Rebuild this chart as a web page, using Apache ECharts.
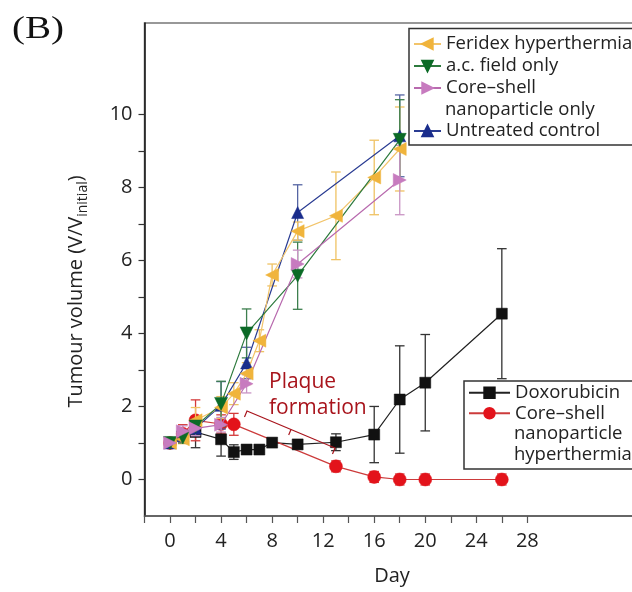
<!DOCTYPE html>
<html>
<head>
<meta charset="utf-8">
<script src="https://cdn.jsdelivr.net/npm/echarts@6/dist/echarts.min.js"></script>
<style>html,body{margin:0;padding:0;background:#fff}#c{width:632px;height:592px}</style>
</head>
<body>
<div id="c"></div>
<script>
// ---------- data ----------
const feridexDays = [0, 1, 2, 4, 5, 6, 7, 8, 10, 13, 16, 18];
const feridexVals = [1.0, 1.1, 1.62, 1.97, 2.35, 2.9, 3.8, 5.6, 6.8, 7.22, 8.27, 9.05];
const feridexErr  = [0.12, 0.12, 0.35, 0.3, 0.3, 0.3, 0.3, 0.3, 0.25, 1.2, 1.02, 1.15];

const acDays = [0, 1, 2, 4, 6, 10, 18];
const acVals = [1.0, 1.15, 1.45, 2.07, 4.0, 5.58, 9.3];
const acErr  = [0.1, 0.15, 0.2, 0.62, 0.67, 0.92, 1.1];

const coreOnlyDays = [0, 1, 2, 4, 6, 10, 18];
const coreOnlyVals = [1.0, 1.32, 1.4, 1.5, 2.62, 5.9, 8.2];
const coreOnlyErr  = [0.1, 0.15, 0.2, 0.2, 0.25, 0.38, 0.95];

const untreatedDays = [0, 1, 2, 4, 6, 10, 18];
const untreatedVals = [1.0, 1.2, 1.4, 2.03, 3.19, 7.31, 9.41];
const untreatedErr  = [0.1, 0.15, 0.2, 0.65, 0.43, 0.76, 1.12];

const doxDays = [0, 2, 4, 5, 6, 7, 8, 10, 13, 16, 18, 20, 26];
const doxVals = [1.0, 1.3, 1.1, 0.75, 0.82, 0.82, 1.01, 0.96, 1.02, 1.23, 2.19, 2.65, 4.54];
const doxErr  = [0.1, 0.43, 0.46, 0.2, 0.12, 0.08, 0.06, 0.05, 0.23, 0.77, 1.47, 1.32, 1.78];

const hyperDays = [0, 1, 2, 4, 5, 13, 16, 18, 20, 26];
const hyperVals = [1.0, 1.25, 1.62, 1.52, 1.51, 0.36, 0.07, 0.0, 0.0, 0.0];
const hyperErr  = [0.1, 0.25, 0.56, 0.25, 0.3, 0.15, 0.15, 0.15, 0.15, 0.15];

const xTickValues  = [-2, 0, 2, 4, 6, 8, 10, 12, 14, 16, 18, 20, 22, 24, 26, 28];
const xLabelValues = [0, 4, 8, 12, 16, 20, 24, 28];
const yTickValues  = [0, 1, 2, 3, 4, 5, 6, 7, 8, 9, 10];
const yLabelValues = [0, 2, 4, 6, 8, 10];

const nameFeridex = 'Feridex hyperthermia';
const nameAc = 'a.c. field only';
const nameCoreOnly = 'Core–shell\nnanoparticle only';
const nameUntreated = 'Untreated control';
const nameDox = 'Doxorubicin';
const nameHyper = 'Core–shell\nnanoparticle\nhyperthermia';

// ---------- helpers ----------
const FONT = '"Open Sans", "Noto Sans", sans-serif';
const TXT = '#222';

function pts(days, vals) { return days.map((d, i) => [d, vals[i]]); }
function errPts(days, vals, errs) { return days.map((d, i) => [d, vals[i] - errs[i], vals[i] + errs[i]]); }

function lineSeries(name, days, vals, color, lineColor, symbol, size, rotate, z) {
  return {
    name: name, type: 'line', data: pts(days, vals),
    symbol: symbol, symbolSize: size, symbolRotate: rotate,
    itemStyle: { color: color, borderColor: color, borderWidth: 0.5 },
    lineStyle: { color: lineColor, width: 1.2 },
    z: z, animation: false
  };
}
function errSeries(id, days, vals, errs, color, z) {
  return {
    name: id, type: 'custom', data: errPts(days, vals, errs), z: z, animation: false,
    silent: true,
    encode: { x: 0, y: [1, 2] },
    renderItem: function (params, api) {
      const x = api.value(0), lo = api.value(1), hi = api.value(2);
      const a = api.coord([x, lo]), b = api.coord([x, hi]);
      const w = 4.8;
      const st = { stroke: color, lineWidth: 1.3 };
      return { type: 'group', children: [
        { type: 'line', shape: { x1: a[0], y1: a[1], x2: b[0], y2: b[1] }, style: st },
        { type: 'line', shape: { x1: a[0] - w, y1: a[1], x2: a[0] + w, y2: a[1] }, style: st },
        { type: 'line', shape: { x1: b[0] - w, y1: b[1], x2: b[0] + w, y2: b[1] }, style: st }
      ]};
    }
  };
}

const legendCommon = {
  orient: 'vertical', padding: 0, itemGap: 0, itemHeight: 13,
  textStyle: { fontSize: 18.5, fontFamily: FONT, color: TXT, lineHeight: 22 },
  formatter: function (n) { return n.split('\n')[0]; },
  selectedMode: false
};

const chart = echarts.init(document.getElementById('c'), null, { renderer: 'canvas' });
chart.setOption({
  animation: false,
  backgroundColor: '#fff',
  grid: { left: 144.5, top: 23, bottom: 76, right: -48.5, show: true, borderColor: '#777', borderWidth: 1.5, backgroundColor: 'transparent', outerBoundsMode: 'none' },
  xAxis: {
    type: 'value', min: -2, max: 40,
    axisLine: { onZero: false, lineStyle: { color: '#555', width: 1.5 } },
    axisTick: { show: true, length: 7, customValues: xTickValues, lineStyle: { color: '#555', width: 1.2 } },
    axisLabel: { customValues: xLabelValues, fontSize: 20, fontFamily: FONT, color: TXT, margin: 15 },
    splitLine: { show: false },
    name: 'Day', nameLocation: 'middle', nameGap: 50,
    nameTextStyle: { fontSize: 20, fontFamily: FONT, color: TXT, padding: [0, 41, 0, 0] }
  },
  yAxis: {
    type: 'value', min: -1, max: 12.5,
    axisLine: { show: true, onZero: false, lineStyle: { color: '#111', width: 1.5 } },
    axisTick: { show: true, length: 6, customValues: yTickValues, lineStyle: { color: '#333', width: 1.2 } },
    axisLabel: { customValues: yLabelValues, fontSize: 20, fontFamily: FONT, color: TXT, margin: 12 },
    splitLine: { show: false },
    name: '{a|Tumour volume (V/V}{s|initial}{a|)}',
    nameLocation: 'middle', nameGap: 58, nameRotate: 90,
    nameTextStyle: {
      fontSize: 20, fontFamily: FONT, color: TXT, padding: [0, 44, 0, 0],
      rich: {
        a: { fontSize: 20, fontFamily: FONT, color: TXT, lineHeight: 24, verticalAlign: 'bottom' },
        s: { fontSize: 14, fontFamily: FONT, color: TXT, lineHeight: 14, padding: [0, 0, -4, 0], verticalAlign: 'bottom' }
      }
    }
  },
  legend: [
    Object.assign({}, legendCommon, { left: 413, top: 33, itemWidth: 27, data: [nameFeridex, nameAc, nameCoreOnly] }),
    Object.assign({}, legendCommon, { left: 413, top: 120, itemWidth: 27, data: [nameUntreated] }),
    Object.assign({}, legendCommon, { left: 468, top: 382.5, itemWidth: 41,
      textStyle: { fontSize: 18.5, fontFamily: FONT, color: TXT, lineHeight: 20.5 }, data: [nameDox, nameHyper] })
  ],
  graphic: [
    { type: 'rect', z: 3, shape: { x: 409, y: 28.5, width: 300, height: 116.5 }, style: { fill: '#fff', stroke: '#333', lineWidth: 1.5 } },
    { type: 'rect', z: 3, shape: { x: 464, y: 381, width: 250, height: 88 }, style: { fill: '#fff', stroke: '#333', lineWidth: 1.5 } },
    { type: 'text', z: 5, x: 445, y: 109.5, style: { text: 'nanoparticle only', font: '18.5px ' + FONT, fill: TXT, verticalAlign: 'middle' } },
    { type: 'text', z: 5, x: 514, y: 434, style: { text: 'nanoparticle', font: '18.5px ' + FONT, fill: TXT, verticalAlign: 'middle' } },
    { type: 'text', z: 5, x: 514, y: 454.5, style: { text: 'hyperthermia', font: '18.5px ' + FONT, fill: TXT, verticalAlign: 'middle' } },
    { type: 'text', z: 5, x: 269, y: 369, style: { text: 'Plaque\nformation', font: '21px ' + FONT, fill: '#a8141c', lineHeight: 26 } },
    { type: 'polyline', z: 5, shape: { points: [[244.5, 417], [247, 411], [335, 448], [332.5, 454]] }, style: { stroke: '#a8141c', lineWidth: 1.2, fill: null } },
    { type: 'polyline', z: 5, shape: { points: [[291, 429.5], [288.7, 435]] }, style: { stroke: '#a8141c', lineWidth: 1.2, fill: null } },
    { type: 'text', z: 5, x: 12, y: 14, scaleX: 1.22, style: { text: '(B)', font: '32px "Liberation Serif", "DejaVu Serif", serif', fill: '#111' } }
  ],
  series: [
    errSeries('errDox', doxDays, doxVals, doxErr, '#333', 2),
    errSeries('errHyper', hyperDays, hyperVals, hyperErr, '#d43a3a', 2),
    lineSeries(nameDox, doxDays, doxVals, '#111', '#222', 'rect', 11, 0, 2),
    lineSeries(nameHyper, hyperDays, hyperVals, '#e3131b', '#cc3b3b', 'circle', 13, 0, 2),
    errSeries('errUntreated', untreatedDays, untreatedVals, untreatedErr, '#5565a3', 3),
    errSeries('errFeridex', feridexDays, feridexVals, feridexErr, '#efc263', 3),
    errSeries('errAc', acDays, acVals, acErr, '#3d7f4e', 3),
    errSeries('errCoreOnly', coreOnlyDays, coreOnlyVals, coreOnlyErr, '#c994c4', 3),
    lineSeries(nameUntreated, untreatedDays, untreatedVals, '#1a2d8c', '#2a3c92', 'triangle', 12, 0, 3),
    lineSeries(nameFeridex, feridexDays, feridexVals, '#f0b43c', '#f2c46a', 'triangle', 13, 90, 3),
    lineSeries(nameAc, acDays, acVals, '#0b6a26', '#2d7a3d', 'triangle', 13, 180, 3),
    lineSeries(nameCoreOnly, coreOnlyDays, coreOnlyVals, '#c77bbf', '#b86aae', 'triangle', 13, -90, 3)
  ]
});
</script>
</body>
</html>
